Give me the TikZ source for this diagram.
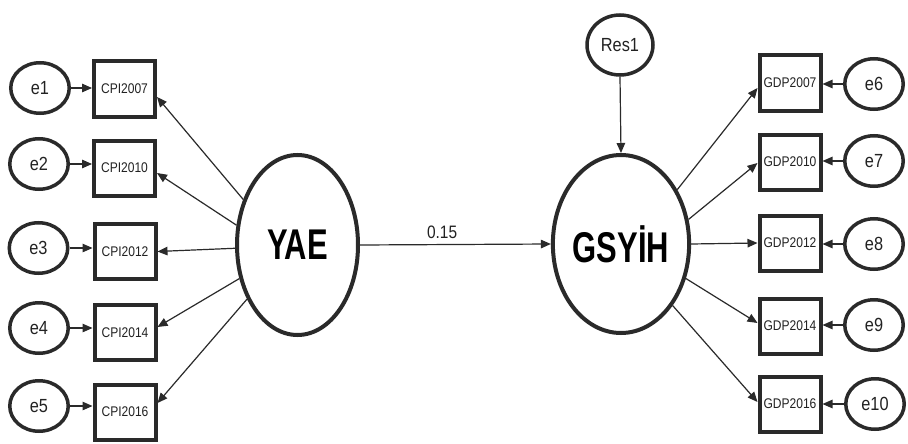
\documentclass[tikz,border=0pt]{standalone}
\usepackage{fontspec}
\setmainfont{Liberation Sans}
\newfontfamily\nfont[FakeStretch=0.86]{Liberation Sans}
\newfontfamily\bfont[FakeStretch=0.72]{Liberation Sans}
\usetikzlibrary{shapes.geometric,arrows.meta}
\definecolor{lc}{HTML}{2A2A2A}
\definecolor{tc}{HTML}{222222}
\tikzset{
  errnode/.style={ellipse, draw=lc, line width=3.5pt, fill=white, text=tc,
    minimum width=58.5pt, minimum height=50.5pt, inner sep=0pt,
    font=\nfont\fontsize{19}{19}\selectfont},
  obsnode/.style={rectangle, draw=lc, line width=4pt, fill=white, text=tc,
    minimum width=61pt, minimum height=55pt, inner sep=0pt,
    font=\nfont\fontsize{14}{14}\selectfont},
  latnode/.style={ellipse, draw=lc, line width=4pt, fill=white, text=black,
    minimum width=121pt, minimum height=180pt, inner sep=0pt,
    font=\bfont\bfseries\fontsize{43}{43}\selectfont},
  arr/.style={draw=lc, line width=1.2pt, -{Triangle[length=10pt,width=8.5pt]}},
  wlabel/.style={text=tc, inner sep=1pt, font=\nfont\fontsize{18}{18}\selectfont}
}
\begin{document}
\begin{tikzpicture}[x=1pt,y=-1pt]
\useasboundingbox[fill=white] (0,0) rectangle (908,444);

% latent variables
\node[latnode] (YAE) at (297.5,245) {YAE};
\node[latnode, minimum height=178pt] (GSYIH) at (621,244) {GSYİH};
\node[errnode, minimum width=66pt, minimum height=60pt] (Res1) at (620,45) {Res1};

% left observed
\node[obsnode] (c07) at (124.5,89) {CPI2007};
\node[obsnode] (c10) at (124.5,168) {CPI2010};
\node[obsnode] (c12) at (125,251.5) {CPI2012};
\node[obsnode] (c14) at (125,332.5) {CPI2014};
\node[obsnode] (c16) at (125,412) {CPI2016};

% left errors
\node[errnode] (e1) at (40,88) {e1};
\node[errnode] (e2) at (39,164) {e2};
\node[errnode] (e3) at (38.5,248) {e3};
\node[errnode] (e4) at (39,328) {e4};
\node[errnode] (e5) at (39,406) {e5};

% right observed
\node[obsnode] (g07) at (790,83) {GDP2007};
\node[obsnode] (g10) at (790,162) {GDP2010};
\node[obsnode] (g12) at (790,243) {GDP2012};
\node[obsnode] (g14) at (790,326) {GDP2014};
\node[obsnode] (g16) at (790,404) {GDP2016};

% right errors
\node[errnode] (e6) at (874,84) {e6};
\node[errnode] (e7) at (874,161) {e7};
\node[errnode] (e8) at (874,244) {e8};
\node[errnode] (e9) at (874,325) {e9};
\node[errnode] (e10) at (875,404) {e10};

% error arrows left
\foreach \e/\c in {e1/c07,e2/c10,e3/c12,e4/c14,e5/c16}
  \draw[arr] (\e.east) -- (\c.west |- \e.east);
% error arrows right
\foreach \e/\g in {e6/g07,e7/g10,e8/g12,e9/g14,e10/g16}
  \draw[arr] (\e.west) -- (\g.east |- \e.west);

% loadings YAE
\draw[arr] (YAE.140) -- ([yshift=-8pt]c07.east);
\draw[arr] (YAE.162) -- ([yshift=-5pt]c10.east);
\draw[arr] (YAE.183) -- (c12.east);
\draw[arr] (YAE.210) -- ([yshift=5.5pt]c14.east);
\draw[arr] (YAE.227) -- ([yshift=9pt]c16.east);

% loadings GSYIH
\draw[arr] (GSYIH.44.6) -- ([yshift=-5pt]g07.west);
\draw[arr] (GSYIH.20) -- ([yshift=-1pt]g10.west);
\draw[arr] (GSYIH.0) -- (g12.west);
\draw[arr] (GSYIH.-28) -- ([yshift=3pt]g14.west);
\draw[arr] (GSYIH.-50) -- ([yshift=2pt]g16.west);

% structural path
\draw[arr] (YAE.east) -- node[wlabel, pos=0.43, above=4pt] (w) {0.15} (GSYIH.west);
\draw[arr] (Res1.south) -- (GSYIH.north);
\end{tikzpicture}
\end{document}
